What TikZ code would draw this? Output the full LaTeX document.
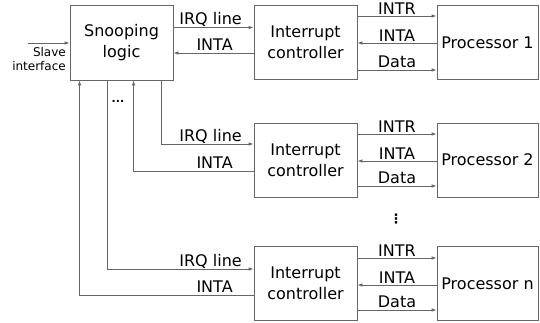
\documentclass[tikz,border=0pt]{standalone}
\usepackage{fontspec}
\setmainfont{DejaVu Sans}
\usetikzlibrary{
    positioning,
    arrows.meta,
    calc
}

\begin{document}
\begin{tikzpicture}[
    x=1pt, y=-1pt,
    box/.style={
        rectangle,
        draw=black!60,
        line width=0.8pt,
        inner sep=0pt,
        align=center,
        font=\fontsize{16}{21}\selectfont
    },
    snoopbox/.style={box, minimum width=103pt, minimum height=75pt},
    ctrl/.style={box, minimum width=103pt, minimum height=74pt},
    cpu/.style={box, minimum width=101pt, minimum height=74pt},
    sig/.style={draw=black!60, line width=0.8pt},
    arrow/.style={sig, -{Latex[length=5pt,width=3.5pt]}},
    lbl/.style={anchor=base, font=\fontsize{16}{18}\selectfont, inner sep=0pt}
]
\useasboundingbox (0,0) rectangle (540,322);

% Boxes
\node[snoopbox] (snoop) at (121.5,42.5) {Snooping\\logic};

\node[ctrl] (ic1) at (305.5,42.5) {Interrupt\\controller};
\node[ctrl] (ic2) at (305.5,160) {Interrupt\\controller};
\node[ctrl] (icn) at (305.5,283.5) {Interrupt\\controller};

\node[cpu] (p1) at (487.5,42.5) {Processor 1};
\node[cpu] (p2) at (487.5,160) {Processor 2};
\node[cpu] (pn) at (487.5,283.5) {Processor n};

% Slave interface
\coordinate (slave) at (28,43);
\draw[arrow] (slave) -- (snoop.west |- slave);
\node[anchor=north east, align=right, inner sep=0pt,
      font=\fontsize{12}{14}\selectfont] (slavelbl) at (66,47) {Slave\\interface};

% Taps under the snooping logic
\coordinate (s1) at ([xshift=10pt]snoop.south west);
\coordinate (s2) at ([xshift=38pt]snoop.south west);
\coordinate (s3) at ([xshift=64pt]snoop.south west);
\coordinate (s4) at ([xshift=92pt]snoop.south west);

% Row 1: snooping logic <-> controller
\coordinate (irq1) at ([yshift=15pt]ic1.west);
\coordinate (inta1) at ([yshift=-10.5pt]ic1.west);
\draw[arrow] (snoop.east |- irq1) -- (irq1);
\draw[arrow] (inta1) -- (snoop.east |- inta1);
\node[lbl] at ([xshift=-43pt,yshift=3pt]irq1) {IRQ line};
\node[lbl] at ([xshift=-39pt,yshift=3pt]inta1) {INTA};

% Row 2
\coordinate (irq2) at ([yshift=16pt]ic2.west);
\coordinate (inta2) at ([yshift=-11pt]ic2.west);
\draw[arrow] (s4) |- (irq2);
\draw[arrow] (inta2) -| (s3);
\node[lbl] at ([xshift=-43pt,yshift=3pt]irq2) {IRQ line};
\node[lbl] at ([xshift=-39pt,yshift=3pt]inta2) {INTA};

% Row n
\coordinate (irqn) at ([yshift=14.5pt]icn.west);
\coordinate (intan) at ([yshift=-11.5pt]icn.west);
\draw[arrow] (s2) |- (irqn);
\draw[arrow] (intan) -| (s1);
\node[lbl] at ([xshift=-43pt,yshift=3pt]irqn) {IRQ line};
\node[lbl] at ([xshift=-39pt,yshift=3pt]intan) {INTA};

% Controller <-> processor
\draw[arrow] ([yshift=26.5pt]ic1.east) -- node[lbl, yshift=2pt] {INTR} ([yshift=26.5pt]p1.west);
\draw[arrow] ([yshift=-0.5pt]p1.west) -- node[lbl, yshift=2pt] {INTA} ([yshift=-0.5pt]ic1.east);
\draw[arrow] ([yshift=-27.5pt]ic1.east) -- node[lbl, yshift=2.5pt] {Data} ([yshift=-27.5pt]p1.west);

\draw[arrow] ([yshift=26pt]ic2.east) -- node[lbl, yshift=2pt] {INTR} ([yshift=26pt]p2.west);
\draw[arrow] ([yshift=-1pt]p2.west) -- node[lbl, yshift=2pt] {INTA} ([yshift=-1pt]ic2.east);
\draw[arrow] ([yshift=-26pt]ic2.east) -- node[lbl, yshift=2.5pt] {Data} ([yshift=-26pt]p2.west);

\draw[arrow] ([yshift=25.5pt]icn.east) -- node[lbl, yshift=2pt] {INTR} ([yshift=25.5pt]pn.west);
\draw[arrow] ([yshift=-1.5pt]pn.west) -- node[lbl, yshift=2pt] {INTA} ([yshift=-1.5pt]icn.east);
\draw[arrow] ([yshift=-26.5pt]icn.east) -- node[lbl, yshift=2.5pt] {Data} ([yshift=-26.5pt]pn.west);

% Ellipses
\node[font=\fontsize{11}{11}\selectfont\bfseries, inner sep=0pt] (hdots) at (118,101) {...};
\node[font=\fontsize{13}{13}\selectfont\bfseries, inner sep=0pt] (vdots) at (396,219) {⋮};

\end{tikzpicture}
\end{document}
